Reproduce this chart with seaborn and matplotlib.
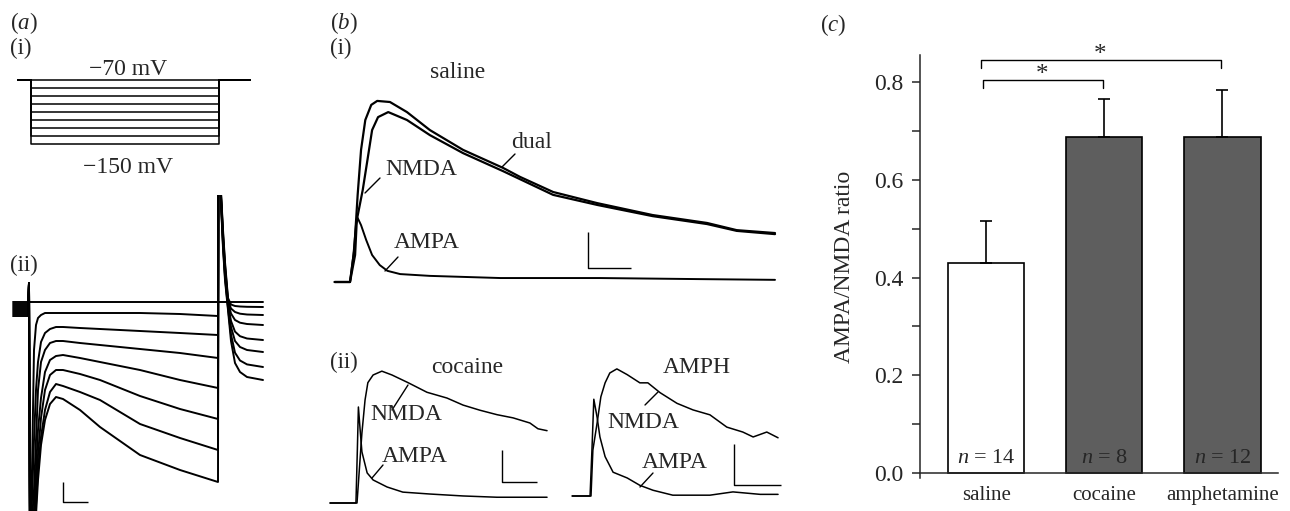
import matplotlib

matplotlib.use("Agg")
import matplotlib.pyplot as plt
import numpy as np
import seaborn as sns
from matplotlib.ticker import MultipleLocator

W, H = 1290, 511

# (a)(i) voltage protocol, mV / ms
HOLD_MV = -70
STEP_MV = [-70, -80, -90, -100, -110, -120, -130, -140, -150]
STEP_MS = 750
PRE_MS, POST_MS = -52, 876

# (a)(ii) hyperpolarisation-evoked currents, ms / pA
IH_MS = [-64, -4, 0, 4, 12, 20, 28, 36, 48, 64, 84, 108, 136, 204, 284, 444,
         604, 756, 758, 768, 776, 784, 796, 808, 824, 844, 872, 936]
IH_HOLD_MS = [-64, 936]
IH_HOLD_PA = [0, 0]
IH_SWEEP_1 = [-20, -20, 190, -2430, -1680, -480, -230, -160, -130, -110, -110, -110, -110, -110,
              -110, -110, -120, -140, 2020, 1100, 720, 400, 40, -25, -40, -45, -48, -50]
IH_SWEEP_2 = [-40, -40, 190, -2430, -1980, -1380, -880, -600, -400, -310, -270, -250, -250, -260,
              -270, -290, -310, -330, 2020, 1080, 690, 370, 20, -65, -100, -117, -125, -130]
IH_SWEEP_3 = [-60, -60, 190, -2430, -2180, -1880, -1380, -880, -600, -480, -410, -390, -390, -410,
              -430, -470, -510, -560, 2020, 1060, 660, 340, 0, -115, -180, -207, -220, -230]
IH_SWEEP_4 = [-80, -80, 190, -2430, -2280, -2080, -1680, -1280, -960, -700, -580, -540, -530, -560,
              -600, -680, -780, -860, 2020, 1040, 630, 310, -20, -190, -296, -342, -365, -380]
IH_SWEEP_5 = [-100, -100, 190, -2430, -2380, -2180, -1880, -1530, -1160, -880, -730, -680, -680, -720,
              -780, -940, -1070, -1170, 2020, 1020, 600, 280, -40, -250, -390, -450, -480, -500]
IH_SWEEP_6 = [-120, -120, 190, -2430, -2430, -2280, -2030, -1680, -1350, -1080, -900, -820, -840, -900,
              -980, -1220, -1360, -1480, 2020, 1000, 570, 250, -60, -325, -507, -585, -624, -650]
IH_SWEEP_7 = [-140, -140, 190, -2430, -2460, -2330, -2130, -1780, -1430, -1180, -1020, -950, -970, -1080,
              -1250, -1530, -1680, -1800, 2020, 980, 540, 220, -80, -390, -610, -700, -750, -780]

# (b)(i) saline EPSCs, ms / pA
SAL_DUAL_MS = [-18, 0, 5, 9, 13, 18, 25, 32, 47, 67, 94, 133, 180, 200, 239, 291, 356, 420, 455, 500]
SAL_DUAL_PA = [0, 0, 89, 242, 367, 450, 492, 503, 500, 472, 422, 367, 317, 292, 250, 219, 186, 164, 144, 136]
SAL_NMDA_MS = [-18, 0, 6, 8, 15, 20, 26, 33, 45, 67, 94, 133, 180, 239, 291, 356, 420, 455, 500]
SAL_NMDA_PA = [0, 0, 75, 172, 256, 331, 422, 458, 472, 450, 408, 358, 308, 242, 214, 183, 161, 142, 133]
SAL_AMPA_MS = [-18, 0, 4, 7, 9, 13, 19, 26, 35, 44, 59, 94, 177, 294, 412, 500]
SAL_AMPA_PA = [0, 0, 75, 158, 178, 158, 117, 75, 47, 31, 22, 17, 11, 11, 8, 6]

# (b)(ii) cocaine and amphetamine EPSCs, ms / pA
COC_NMDA_MS = [-77, 0, 14, 23, 31, 46, 71, 100, 146, 200, 257, 303, 351, 400, 446, 494, 517, 543]
COC_NMDA_PA = [0, 0, 109, 161, 188, 200, 206, 200, 188, 173, 164, 153, 145, 138, 133, 125, 116, 113]
COC_AMPA_MS = [-77, -3, 1, 4, 9, 14, 29, 46, 86, 131, 209, 303, 400, 543]
COC_AMPA_PA = [0, 0, 83, 150, 114, 80, 47, 36, 25, 17, 14, 11, 9, 9]
AMPH_NMDA_MS = [-40, 0, 4, 13, 21, 30, 40, 55, 77, 104, 121, 147, 183, 217, 253, 289, 323, 345, 374, 398]
AMPH_NMDA_PA = [0, 0, 56, 89, 121, 138, 150, 155, 148, 138, 138, 126, 113, 105, 99, 84, 78, 72, 78, 71]
AMPH_AMPA_MS = [-40, -2, 2, 6, 13, 19, 30, 47, 77, 104, 132, 174, 253, 302, 360, 398]
AMPH_AMPA_PA = [0, 0, 56, 118, 96, 72, 48, 29, 22, 13, 7, 1, 1, 5, 2, 2]

# (c) AMPA/NMDA ratios
GROUPS = ["saline", "cocaine", "amphetamine"]
RATIO_MEAN = [0.43, 0.688, 0.688]
RATIO_SEM = [0.086, 0.077, 0.096]
N_CELLS = [14, 8, 12]
BAR_COLORS = ["white", "#5e5e5e", "#5e5e5e"]

sns.set_style("ticks")
plt.rcParams["font.family"] = ["Liberation Serif", "DejaVu Serif"]
plt.rcParams["mathtext.fontset"] = "custom"
plt.rcParams["mathtext.rm"] = "Liberation Serif"
plt.rcParams["mathtext.it"] = "Liberation Serif:italic"

fig = plt.figure(figsize=(W / 100, H / 100), dpi=100)


def px_axes(left, top, right, bottom):
    return fig.add_axes([left / W, 1 - bottom / H, (right - left) / W, (bottom - top) / H])


def fit_scale(ax, box, origin_px, px_per_unit, origin_val=(0, 0)):
    # map data units onto the pixel box of the original figure
    left, top, right, bottom = box
    ox, oy = origin_px
    vx, vy = origin_val
    sx, sy = px_per_unit
    ax.set_xlim(vx + (left - ox) / sx, vx + (right - ox) / sx)
    ax.set_ylim(vy - (bottom - oy) / sy, vy + (oy - top) / sy)
    ax.set_axis_off()


def trace(ax, t, v, lw):
    sns.lineplot(x=t, y=v, ax=ax, color="black", linewidth=lw, estimator=None, sort=False)


def scale_bar(ax, corner, dx, dy):
    x, y = corner
    ax.plot([x, x, x + dx], [y + dy, y, y], color="black", linewidth=1.0, solid_capstyle="butt")


# (a)(i)
ax_p = px_axes(10, 60, 266, 150)
for level in STEP_MV:
    trace(ax_p, [PRE_MS, 0, 0, STEP_MS, STEP_MS, POST_MS],
          [HOLD_MV, HOLD_MV, level, level, HOLD_MV, HOLD_MV], 1.1)
fit_scale(ax_p, (10, 60, 266, 150), (31, 80), (0.25, 0.8), (0, HOLD_MV))

# (a)(ii)
ax_ih = px_axes(10, 195, 266, 511)
trace(ax_ih, IH_HOLD_MS, IH_HOLD_PA, 1.4)
for sweep in [IH_SWEEP_1, IH_SWEEP_2, IH_SWEEP_3, IH_SWEEP_4, IH_SWEEP_5, IH_SWEEP_6, IH_SWEEP_7]:
    trace(ax_ih, IH_MS, sweep, 1.4)
scale_bar(ax_ih, (136, -2000), 100, 200)
fit_scale(ax_ih, (10, 195, 266, 511), (29, 302), (0.25, 0.1))

# (b)(i)
ax_sal = px_axes(330, 90, 790, 292)
trace(ax_sal, SAL_DUAL_MS, SAL_DUAL_PA, 1.6)
trace(ax_sal, SAL_NMDA_MS, SAL_NMDA_PA, 1.6)
trace(ax_sal, SAL_AMPA_MS, SAL_AMPA_PA, 1.4)
scale_bar(ax_sal, (280, 39), 50, 100)
fit_scale(ax_sal, (330, 90, 790, 292), (350, 282), (0.85, 0.36))

# (b)(ii)
ax_coc = px_axes(328, 360, 560, 511)
trace(ax_coc, COC_NMDA_MS, COC_NMDA_PA, 1.1)
trace(ax_coc, COC_AMPA_MS, COC_AMPA_PA, 1.1)
scale_bar(ax_coc, (414, 33), 100, 50)
fit_scale(ax_coc, (328, 360, 560, 511), (357, 503), (0.35, 0.64))

ax_amph = px_axes(565, 360, 790, 511)
trace(ax_amph, AMPH_NMDA_MS, AMPH_NMDA_PA, 1.1)
trace(ax_amph, AMPH_AMPA_MS, AMPH_AMPA_PA, 1.1)
scale_bar(ax_amph, (304, 13), 100, 50)
fit_scale(ax_amph, (565, 360, 790, 511), (591, 496), (0.47, 0.82))

# (c)
ax_c = px_axes(920, 55, 1278, 478)
sns.barplot(x=GROUPS, y=RATIO_MEAN, hue=GROUPS, palette=BAR_COLORS, legend=False,
            width=0.645, edgecolor="black", linewidth=1.2, errorbar=None, ax=ax_c)
ax_c.errorbar(np.arange(len(GROUPS)), RATIO_MEAN, yerr=[np.zeros(len(GROUPS)), RATIO_SEM],
              fmt="none", ecolor="black", elinewidth=1.2, capsize=4, capthick=1.2)
for i, n in enumerate(N_CELLS):
    ax_c.text(i, 0.02, f"$n$ = {n}", ha="center", va="baseline", fontsize=16)

for (i, j), y_top, dx in [((0, 1), 0.804, 0.03), ((0, 2), 0.845, 0.04)]:
    ax_c.plot([i - dx, i - dx, j - 0.01, j - 0.01], [y_top - 0.016, y_top, y_top, y_top - 0.016],
              color="black", linewidth=1.0, clip_on=False)
    ax_c.text((i + j) / 2 - dx, y_top - 0.003, "*", ha="center", va="baseline", fontsize=18,
              clip_on=False)

ax_c.set_xlim(-0.56, 2.47)
ax_c.set_ylim(-0.01, 0.855)
ax_c.set_yticks([0.0, 0.2, 0.4, 0.6, 0.8])
ax_c.yaxis.set_minor_locator(MultipleLocator(0.1))
ax_c.spines["bottom"].set_position(("data", 0))
for side in ["top", "right"]:
    ax_c.spines[side].set_visible(False)
for side in ["left", "bottom"]:
    ax_c.spines[side].set_linewidth(1.1)
ax_c.tick_params(axis="y", which="both", direction="out", length=6, width=1.1, labelsize=17, pad=6)
ax_c.tick_params(axis="x", length=0, labelsize=15, pad=9)
ax_c.set_xlabel("")
ax_c.set_ylabel("AMPA/NMDA ratio", fontsize=17, labelpad=14)

# labels and leader lines, placed in pixel space of the original
ov = fig.add_axes([0, 0, 1, 1])
ov.set_xlim(0, W)
ov.set_ylim(H, 0)
ov.set_axis_off()
ov.patch.set_visible(False)

for x, y, s in [(10, 29, "($a$)"), (10, 54, "(i)"), (10, 271, "(ii)"),
                (330, 29, "($b$)"), (330, 54, "(i)"), (330, 368, "(ii)"),
                (820, 31, "($c$)")]:
    ov.text(x, y, s, ha="left", va="baseline", fontsize=16.5)

for x, y, s in [(128, 75, "\u221270 mV"), (128, 173, "\u2212150 mV"),
                (458, 78, "saline"), (532, 148, "dual"), (421, 175, "NMDA"), (427, 248, "AMPA"),
                (467, 373, "cocaine"), (406, 420, "NMDA"), (415, 462, "AMPA"),
                (697, 373, "AMPH"), (643, 428, "NMDA"), (675, 468, "AMPA")]:
    ov.text(x, y, s, ha="center", va="baseline", fontsize=17)

for (x1, y1), (x2, y2) in [((515, 154), (502, 167)), ((380, 178), (365, 193)),
                           ((398, 257), (385, 271)), ((392, 410), (408, 385)),
                           ((383, 465), (372, 478)), ((645, 405), (658, 392)),
                           ((640, 487), (653, 473))]:
    ov.plot([x1, x2], [y1, y2], color="black", linewidth=1.0)

fig.savefig("out.png", dpi=100)
